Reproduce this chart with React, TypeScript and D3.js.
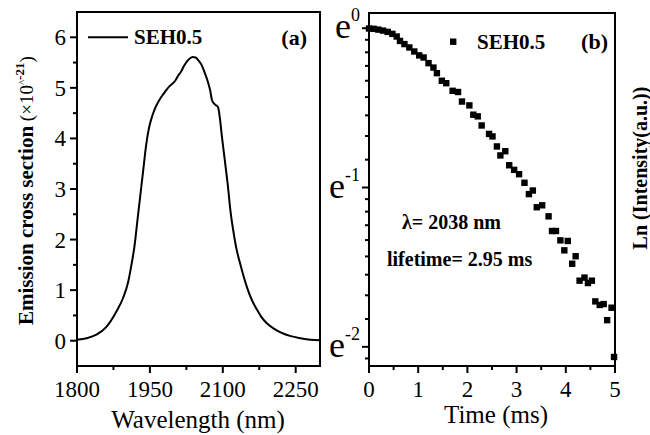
import React from 'react';
import * as d3 from 'd3';

// Panel (a): emission cross section spectrum
const wavelength = [1800, 1820, 1840, 1860, 1880, 1895, 1905, 1912, 1918, 1924, 1930, 1936, 1942, 1948, 1954, 1960, 1966, 1972, 1978, 1984, 1990, 1996, 2002, 2008, 2014, 2020, 2026, 2032, 2038, 2044, 2050, 2056, 2062, 2068, 2074, 2078, 2084, 2090, 2094, 2098, 2104, 2110, 2116, 2122, 2128, 2135, 2142, 2150, 2160, 2170, 2180, 2190, 2205, 2220, 2240, 2260, 2280, 2300];
const crossSection = [0.02, 0.05, 0.12, 0.27, 0.56, 0.85, 1.15, 1.5, 1.85, 2.35, 2.85, 3.35, 3.85, 4.2, 4.42, 4.58, 4.7, 4.8, 4.88, 4.96, 5.03, 5.08, 5.14, 5.24, 5.32, 5.43, 5.52, 5.58, 5.61, 5.6, 5.54, 5.46, 5.32, 5.16, 4.95, 4.75, 4.67, 4.62, 4.4, 4.05, 3.58, 3.1, 2.55, 2.15, 1.82, 1.55, 1.3, 1.05, 0.8, 0.62, 0.46, 0.35, 0.24, 0.16, 0.09, 0.05, 0.02, 0.01];

// Panel (b): decay curve
const time = [0.0, 0.095, 0.19, 0.285, 0.38, 0.475, 0.563, 0.63, 0.72, 0.82, 0.92, 1.02, 1.11, 1.21, 1.31, 1.38, 1.48, 1.57, 1.7, 1.81, 1.89, 2.04, 2.12, 2.21, 2.29, 2.44, 2.51, 2.6, 2.67, 2.77, 2.85, 2.95, 3.05, 3.16, 3.25, 3.33, 3.41, 3.52, 3.65, 3.72, 3.8, 3.89, 3.97, 4.04, 4.13, 4.2, 4.28, 4.38, 4.45, 4.53, 4.6, 4.69, 4.77, 4.84, 4.93, 4.98];
const intensity = [0.998, 0.996, 0.991, 0.985, 0.977, 0.965, 0.949, 0.923, 0.905, 0.886, 0.864, 0.843, 0.832, 0.803, 0.781, 0.754, 0.719, 0.708, 0.675, 0.67, 0.631, 0.616, 0.581, 0.575, 0.543, 0.515, 0.507, 0.476, 0.45, 0.462, 0.423, 0.411, 0.4, 0.379, 0.353, 0.361, 0.325, 0.329, 0.307, 0.28, 0.28, 0.264, 0.248, 0.263, 0.228, 0.239, 0.205, 0.209, 0.202, 0.205, 0.18, 0.176, 0.177, 0.16, 0.173, 0.127];

const xTicksA = [1800, 1950, 2100, 2250];
const xMinorA = [1875, 2025, 2175];
const yTicksA = [0, 1, 2, 3, 4, 5, 6];
const yMinorA = [0.5, 1.5, 2.5, 3.5, 4.5, 5.5];
const xTicksB = [0, 1, 2, 3, 4, 5];
const xMinorB = [0.5, 1.5, 2.5, 3.5, 4.5];
const yExpB = [0, -1, -2];
const yDecadesB = [-3, -2, -1, 0];

const serif = '"Liberation Serif", "Times New Roman", serif';

export default function App() {
  const xA = d3.scaleLinear().domain([1800, 2300]).range([77, 320]);
  const yA = d3.scaleLinear().domain([-0.5, 6.5]).range([366, 12]);
  const xB = d3.scaleLinear().domain([0, 5]).range([369, 615]);
  const yB = d3.scaleLog().base(Math.E).domain([0.12, 1.1]).range([366, 13]);

  const lineA = d3
    .line<number>()
    .x((_, i) => xA(wavelength[i]))
    .y((d) => yA(d))
    .curve(d3.curveMonotoneX)(crossSection) as string;

  // Minor ticks on log axis: 8 linear steps within each e-decade
  const yMinorB: number[] = [];
  yDecadesB.forEach((k) => {
    const lo = Math.exp(k);
    const hi = Math.exp(k + 1);
    for (let j = 1; j <= 8; j++) {
      const v = lo + (j * (hi - lo)) / 9;
      if (v > 0.12 && v < 1.1) yMinorB.push(v);
    }
  });

  const [a0, a1] = yA.range();
  const [b0, b1] = yB.range();

  return (
    <svg
      width={650}
      height={435}
      style={{ position: 'absolute', left: 0, top: 0, background: '#fff' }}
      fontFamily={serif}
    >
      <rect width={650} height={435} fill="#fff" />
      {/* Panel (a) */}
      <g>
        <path d={lineA} fill="none" stroke="#000" strokeWidth={2} />
        <rect x={77} y={12} width={320 - 77} height={366 - 12} fill="none" stroke="#000" strokeWidth={2} />
        {xTicksA.map((t) => (
          <g key={'xa' + t}>
            <line x1={xA(t)} x2={xA(t)} y1={a0} y2={a0 + 7} stroke="#000" strokeWidth={2} />
            <text x={xA(t)} y={397} fontSize={23} textAnchor="middle">{t}</text>
          </g>
        ))}
        {xMinorA.map((t) => (
          <line key={'xam' + t} x1={xA(t)} x2={xA(t)} y1={a0} y2={a0 + 4} stroke="#000" strokeWidth={2} />
        ))}
        {yTicksA.map((t) => (
          <g key={'ya' + t}>
            <line x1={77} x2={70} y1={yA(t)} y2={yA(t)} stroke="#000" strokeWidth={2} />
            <text x={66} y={yA(t) + 8} fontSize={23} textAnchor="end">{t}</text>
          </g>
        ))}
        {yMinorA.map((t) => (
          <line key={'yam' + t} x1={77} x2={73} y1={yA(t)} y2={yA(t)} stroke="#000" strokeWidth={2} />
        ))}
        <text x={198} y={428} fontSize={25} textAnchor="middle">Wavelength (nm)</text>
        <text transform="translate(33,325) rotate(-90)" fontSize={21}>
          <tspan fontWeight="bold">Emission cross section</tspan>
          <tspan fontSize={19}> (×10</tspan>
          <tspan fontSize={11} dy={-7}>^</tspan>
          <tspan fontSize={13} fontWeight="bold" dy={-2}>-21</tspan>
          <tspan fontSize={19} dy={9}>)</tspan>
        </text>
        {/* legend */}
        <line x1={88} x2={128} y1={yA(6)} y2={yA(6)} stroke="#000" strokeWidth={2} />
        <text x={134} y={yA(6) + 7} fontSize={21} fontWeight="bold">SEH0.5</text>
        <text x={307} y={45} fontSize={22} fontWeight="bold" textAnchor="end">(a)</text>
      </g>

      {/* Panel (b) */}
      <g>
        {time.map((t, i) => (
          <rect key={'p' + i} x={xB(t) - 3.2} y={yB(intensity[i]) - 3.2} width={6.4} height={6.4} fill="#000" />
        ))}
        <rect x={369} y={13} width={615 - 369} height={366 - 13} fill="none" stroke="#000" strokeWidth={2} />
        {xTicksB.map((t) => (
          <g key={'xb' + t}>
            <line x1={xB(t)} x2={xB(t)} y1={b0} y2={b0 + 7} stroke="#000" strokeWidth={2} />
            <text x={xB(t)} y={397} fontSize={23} textAnchor="middle">{t}</text>
          </g>
        ))}
        {xMinorB.map((t) => (
          <line key={'xbm' + t} x1={xB(t)} x2={xB(t)} y1={b0} y2={b0 + 4} stroke="#000" strokeWidth={2} />
        ))}
        {yExpB.map((k) => (
          <g key={'yb' + k}>
            <line x1={369} x2={362} y1={yB(Math.exp(k))} y2={yB(Math.exp(k))} stroke="#000" strokeWidth={2} />
            <text x={360} y={yB(Math.exp(k)) + 10} textAnchor="end">
              <tspan fontSize={36}>e</tspan>
              <tspan fontSize={18} dy={-17}>{k}</tspan>
            </text>
          </g>
        ))}
        {yMinorB.map((v, i) => (
          <line key={'ybm' + i} x1={369} x2={365} y1={yB(v)} y2={yB(v)} stroke="#000" strokeWidth={2} />
        ))}
        <text x={496} y={423} fontSize={25} textAnchor="middle">Time (ms)</text>
        <text transform="translate(647,168) rotate(-90)" fontSize={20} fontWeight="bold" textAnchor="middle">
          Ln (Intensity(a.u.))
        </text>
        {/* legend */}
        <rect x={450} y={38.5} width={6.4} height={6.4} fill="#000" />
        <text x={477} y={49} fontSize={21} fontWeight="bold">SEH0.5</text>
        <text x={608} y={49} fontSize={22} fontWeight="bold" textAnchor="end">(b)</text>
        <text x={402} y={229} fontSize={20} fontWeight="bold">λ= 2038 nm</text>
        <text x={387} y={266} fontSize={20} fontWeight="bold">lifetime= 2.95 ms</text>
      </g>
    </svg>
  );
}
